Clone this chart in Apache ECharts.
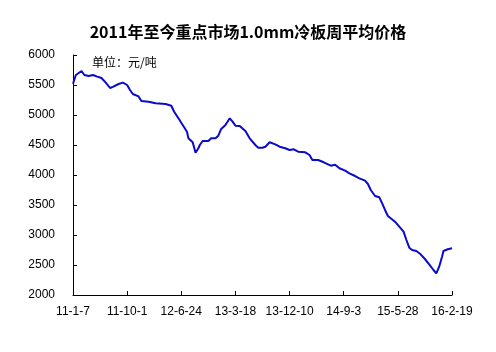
<!DOCTYPE html>
<html>
<head>
<meta charset="utf-8">
<script src="https://cdn.jsdelivr.net/npm/echarts@6/dist/echarts.min.js"></script>
<style>html,body{margin:0;padding:0;background:#fff;}#c{width:496px;height:352px;}</style>
</head>
<body>
<div id="c"></div>
<script>
var titleText = '2011年至今重点市场1.0mm冷板周平均价格';
var unitText = '单位：元/吨';
var tickLabels = ['11-1-7','11-10-1','12-6-24','13-3-18','13-12-10','14-9-3','15-5-28','16-2-19'];
var weekIndex = [0,2,6,8,11,14,17,20,23,26,28,32,35,38,40,42,43,46,48,53,58,65,69,71,74,77,80,81,84,86,88,89,91,95,97,100,102,104,107,110,112,114,117,121,124,128,130,133,135,138,142,145,149,152,155,158,163,166,168,172,176,179,181,184,187,191,194,198,201,205,207,209,212,215,217,219,221,222,226,229,232,234,236,238,241,244,247,250,253,255,256,257,259,260,263,266];
var prices = [5520,5667,5733,5667,5650,5667,5640,5617,5540,5450,5470,5517,5540,5500,5417,5350,5333,5310,5233,5222,5195,5183,5155,5055,4945,4833,4722,4611,4545,4372,4445,4500,4567,4567,4611,4611,4655,4767,4833,4945,4889,4822,4817,4733,4611,4500,4455,4455,4470,4545,4511,4472,4445,4417,4428,4389,4378,4333,4250,4250,4212,4178,4155,4170,4112,4072,4028,3983,3945,3905,3850,3750,3650,3628,3528,3417,3317,3305,3222,3138,3055,2917,2788,2750,2733,2678,2600,2512,2417,2362,2378,2472,2638,2733,2762,2778];
var labelStep = 38;

var seriesData = weekIndex.map(function(w, i){ return [w, prices[i]]; });
var chart = echarts.init(document.getElementById('c'), null, {renderer:'canvas'});
chart.setOption({
  backgroundColor: '#ffffff',
  animation: false,
  title: {
    text: titleText,
    left: 'center',
    top: 19,
    textStyle: {fontSize: 16, fontWeight: 'bold', color: '#000', fontFamily: 'Noto Sans CJK SC'}
  },
  graphic: [{
    type: 'text', left: 92, top: 56,
    style: {text: unitText, fontSize: 12, fill: '#000', fontFamily: 'Noto Sans CJK SC'}
  }],
  grid: {left: 73, right: 44, top: 55, bottom: 57},
  xAxis: {
    type: 'value', min: 0, max: labelStep * (tickLabels.length - 1), interval: labelStep,
    axisLine: {lineStyle: {color: '#000', width: 1}},
    axisTick: {show: true, inside: true, length: 4, lineStyle: {color: '#000'}},
    splitLine: {show: false},
    axisLabel: {
      color: '#000', fontSize: 12, fontFamily: 'Liberation Sans', margin: 11,
      formatter: function(v){ return tickLabels[Math.round(v / labelStep)] || ''; }
    }
  },
  yAxis: {
    type: 'value', min: 2000, max: 6000, interval: 500,
    axisLine: {show: true, lineStyle: {color: '#000', width: 1}},
    axisTick: {show: true, inside: true, length: 4, lineStyle: {color: '#000'}},
    splitLine: {show: false},
    axisLabel: {color: '#000', fontSize: 12, fontFamily: 'Liberation Sans', margin: 18,
      formatter: function(v){ return String(v); }}
  },
  series: [{
    type: 'line', data: seriesData, showSymbol: false, symbol: 'none',
    lineStyle: {color: '#0A0ACC', width: 2}
  }]
});
</script>
</body>
</html>
